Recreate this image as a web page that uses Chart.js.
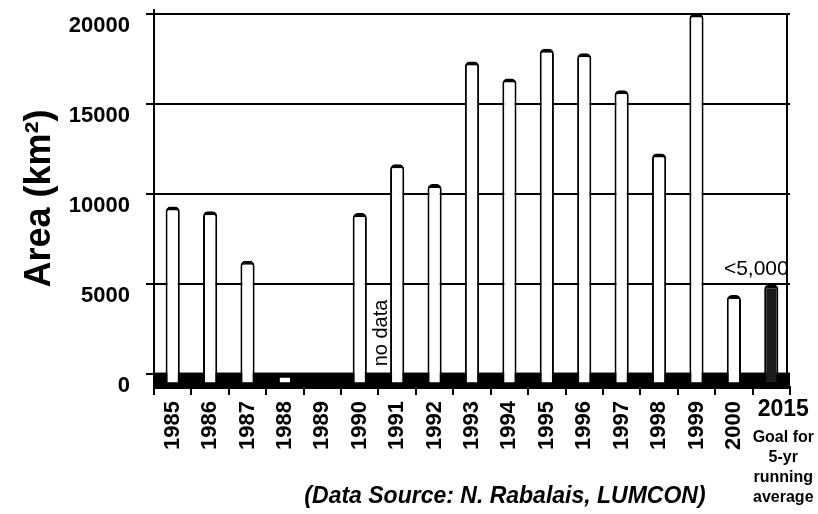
<!DOCTYPE html>
<html>
<head>
<meta charset="utf-8">
<script src="https://cdn.jsdelivr.net/npm/chart.js@4.4.1/dist/chart.umd.min.js"></script>
<style>
  html, body { margin: 0; padding: 0; background: #fff; }
  #wrap { width: 818px; height: 514px; }
</style>
</head>
<body>
<div id="wrap"><canvas id="myChart" width="818" height="514"></canvas></div>
<script>
'use strict';

// hypoxic area, km2 (1989: no data, last bar is the 2015 goal)
var years = ['1985', '1986', '1987', '1988', '1989', '1990', '1991', '1992', '1993',
  '1994', '1995', '1996', '1997', '1998', '1999', '2000', '2015'];
var area = [9300, 9050, 6300, 40, null, 8950, 11650, 10550, 17350,
  16400, 18050, 17800, 15750, 12250, 20000, 4400, 5000];
var yTicks = [0, 5000, 10000, 15000, 20000];
var goalLines = ['Goal for', '5-yr', 'running', 'average'];

(function() {

  var ctx = document.getElementById('myChart');
  var goalIndex = years.length - 1;

  var fills = area.map(function(v, i) {
    return i === goalIndex ? '#1c1c1c' : '#ffffff';
  });

  var extras = {
    id: 'extras',
    beforeDatasetsDraw: function(chart) {
      var c = chart.ctx, a = chart.chartArea, y = chart.scales.y;
      c.save();
      // floor of the 3d box
      var floorTop = y.getPixelForValue(100);
      c.fillStyle = '#000';
      c.fillRect(a.left, floorTop, a.right - a.left, a.bottom - floorTop);
      // right wall edge
      c.strokeStyle = '#000';
      c.lineWidth = 2;
      c.beginPath();
      c.moveTo(a.right - 3, y.getPixelForValue(20000));
      c.lineTo(a.right - 3, a.bottom);
      c.stroke();
      c.restore();
    },
    afterDraw: function(chart) {
      var c = chart.ctx, x = chart.scales.x, y = chart.scales.y;
      var gx = x.getPixelForValue(goalIndex);
      c.save();
      c.fillStyle = '#000';

      // no data note next to 1990
      var nx = (x.getPixelForValue(5) + x.getPixelForValue(6)) / 2 + 3;
      c.save();
      c.translate(nx, y.getPixelForValue(0) - 8);
      c.rotate(-Math.PI / 2);
      c.font = '20px "Liberation Sans", Arial, sans-serif';
      c.textAlign = 'left';
      c.textBaseline = 'middle';
      c.fillText('no data', 0, 0);
      c.restore();

      c.textAlign = 'center';
      c.textBaseline = 'middle';
      c.font = '21px "Liberation Sans", Arial, sans-serif';
      c.fillText('<5,000', gx - 15, y.getPixelForValue(area[goalIndex]) - 15);

      c.font = 'bold 23px "Liberation Sans", Arial, sans-serif';
      c.fillText('2015', gx + 12, 410);
      c.font = 'bold 16px "Liberation Sans", Arial, sans-serif';
      goalLines.forEach(function(t, i) {
        c.fillText(t, gx + 12, 438 + i * 20);
      });

      c.font = 'italic bold 23px "Liberation Sans", Arial, sans-serif';
      c.fillText('(Data Source: N. Rabalais, LUMCON)', 505, 497);
      c.restore();
    }
  };

  var data = {
    labels: years,
    datasets: [{
      data: area,
      base: -450,
      backgroundColor: fills,
      borderColor: '#000',
      borderWidth: {top: 4, left: 2, right: 2, bottom: 0},
      borderRadius: {topLeft: 5, topRight: 5},
      borderSkipped: 'bottom',
      barPercentage: 0.38,
      categoryPercentage: 1.0
    }]
  };

  var myChart = new Chart(ctx, {
    type: 'bar',
    data: data,
    plugins: [extras],
    options: {
      responsive: false,
      animation: false,
      layout: {padding: {top: 10, right: 28, left: 0, bottom: 0}},
      plugins: {
        legend: {display: false},
        tooltip: {enabled: false}
      },
      scales: {
        x: {
          afterFit: function(scale) {
            scale.height = 127;
            scale.paddingLeft = 0;
            scale.paddingRight = 0;
          },
          grid: {
            offset: true,
            drawOnChartArea: false,
            color: '#000',
            lineWidth: 2,
            tickLength: 8
          },
          border: {display: true, color: '#000', width: 3},
          ticks: {
            color: '#000',
            font: {family: '"Liberation Sans", Arial, sans-serif', size: 22, weight: 'bold'},
            minRotation: 90,
            maxRotation: 90,
            padding: 6,
            autoSkip: false,
            callback: function(value, index) {
              return index === goalIndex ? '' : years[index];
            }
          }
        },
        y: {
          min: -700,
          max: 20200,
          afterFit: function(scale) {
            scale.width = 154;
            scale.paddingTop = 0;
            scale.paddingBottom = 0;
          },
          afterBuildTicks: function(scale) {
            scale.ticks = yTicks.map(function(v) { return {value: v}; });
          },
          grid: {
            color: '#000',
            lineWidth: 2,
            tickLength: 8
          },
          border: {display: true, color: '#000', width: 2},
          ticks: {
            color: '#000',
            font: {family: '"Liberation Sans", Arial, sans-serif', size: 22, weight: 'bold'},
            padding: 16,
            labelOffset: 12,
            callback: function(value) { return String(value); }
          },
          title: {
            display: true,
            text: 'Area (km\u00b2)',
            color: '#000',
            font: {family: '"Liberation Sans", Arial, sans-serif', size: 36, weight: 'bold'},
            padding: {top: 18, bottom: 0}
          }
        }
      }
    }
  });

})();
</script>
</body>
</html>
